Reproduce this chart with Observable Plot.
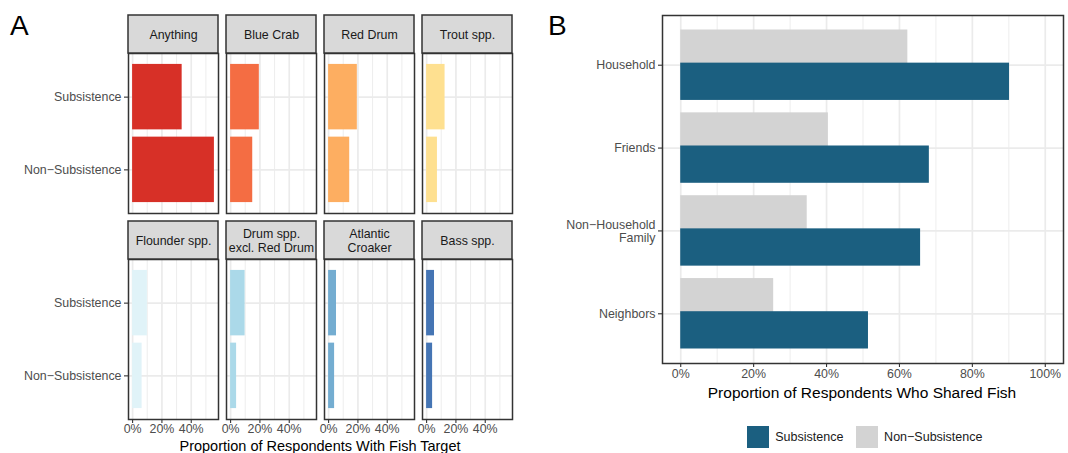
<!DOCTYPE html>
<html><head><meta charset="utf-8">
<script src="https://cdn.jsdelivr.net/npm/d3@7"></script>
<script src="https://cdn.jsdelivr.net/npm/@observablehq/plot@0.6"></script>
<style>
body{margin:0;background:#fff;width:1068px;height:453px;overflow:hidden;position:relative;font-family:"Liberation Sans",Arial,sans-serif;}
.abs{position:absolute;}
.tag{font-size:28px;line-height:28px;color:#000;}
.ttl{font-size:15.5px;line-height:15.5px;color:#000;white-space:nowrap;transform:translateX(-50%);}
.ttlA{font-size:14.5px;line-height:14px;}
</style></head><body>
<div id="A" class="abs" style="left:0;top:0"></div>
<div id="B" class="abs" style="left:540px;top:0"></div>
<div class="abs tag" style="left:10px;top:12px">A</div>
<div class="abs tag" style="left:548px;top:12px">B</div>
<div class="abs ttl ttlA" style="left:320px;top:438.5px">Proportion of Respondents With Fish Target</div>
<div class="abs ttl" style="left:862px;top:385px">Proportion of Respondents Who Shared Fish</div>
<div id="legend" class="abs" style="left:747px;top:420px"></div>
<script>
// ---- data ----
const targets = ["Anything","Blue Crab","Red Drum","Trout spp.","Flounder spp.","Drum spp.\nexcl. Red Drum","Atlantic\nCroaker","Bass spp."];
const targetColors = ["#d73027","#f46d43","#fdae61","#fee090","#e0f3f8","#abd9e9","#74add1","#4575b4"];
const subsistencePct = [33.8,19.6,19.6,12.6,10.1,9.9,5.4,5.4];
const nonSubsistencePct = [55.8,15.1,14.4,7.4,6.5,4.1,4.1,4.1];
const groups = ["Subsistence","Non\u2212Subsistence"];
const groupColors = ["#1b5f80","#d3d3d3"];
const recipients = ["Household","Friends","Non\u2212Household\nFamily","Neighbors"];
const sharedSubsistence = [90.2,68.2,65.8,51.5];
const sharedNonSubsistence = [62.3,40.5,34.7,25.5];
const ticksA = [0,20,40];
const minorTicksA = [10,30,50];
const ticksB = [0,20,40,60,80,100];
const minorTicksB = [10,30,50,70,90];

const font = "'Liberation Sans', Arial, sans-serif";
const fs = 12.4;
const pct = d => d + "%";
const gridMajor = {stroke:"#ebebeb", strokeWidth:1.7};
const gridMinor = {stroke:"#ebebeb", strokeWidth:0.9};

// ---- panel A ----
const facetsA = targets.map((t,i)=>({target:t, col:i%4, row:Math.floor(i/4), color:targetColors[i]}));
const barsA = facetsA.flatMap((f,i)=>[
  {...f, group:groups[0], gi:1, value:subsistencePct[i]},
  {...f, group:groups[1], gi:2, value:nonSubsistencePct[i]}
]);
const maxA = d3.max(barsA, d=>d.value);
const yDomA = [1-0.6, groups.length+0.6];

const plotA = Plot.plot({
  width:540, height:453,
  marginLeft:128, marginRight:28, marginTop:53, marginBottom:34,
  style:{fontFamily:font, fontSize:fs+"px", background:"transparent"},
  fx:{domain:[0,1,2,3], axis:null, paddingInner:8/98, paddingOuter:0, round:false},
  fy:{domain:[0,1], axis:null, paddingInner:46/206, paddingOuter:0, round:false},
  x:{domain:[-0.05*maxA, 1.05*maxA]},
  y:{domain:yDomA, reverse:true},
  color:{type:"identity"},
  marks:[
    Plot.ruleX(minorTicksA, gridMinor),
    Plot.ruleX(ticksA, gridMajor),
    Plot.ruleY([1,2], gridMajor),
    Plot.rect(barsA, {fx:"col", fy:"row", x1:()=>0, x2:"value", y1:d=>d.gi-0.45, y2:d=>d.gi+0.45, fill:"color"}),
    Plot.frame({stroke:"#333333", strokeWidth:1.5}),
    Plot.rect(facetsA, {fx:"col", fy:"row", y1:()=>yDomA[0], y2:()=>yDomA[0], insetTop:-38, fill:"#d9d9d9", stroke:"#333333", strokeWidth:1.5}),
    Plot.text(facetsA, {fx:"col", fy:"row", y:()=>yDomA[0], dy:-19, frameAnchor:"middle", text:"target", fill:"#1a1a1a", fontSize:fs, lineHeight:1.12, lineAnchor:"middle"}),
    Plot.axisY({ticks:[1,2], tickFormat:i=>groups[i-1], tickSize:4, tickPadding:3, stroke:"#333333", strokeWidth:1.1, fill:"#4d4d4d", facetAnchor:"left", anchor:"left", label:null, fontSize:fs}),
    Plot.axisX({ticks:ticksA, tickFormat:pct, tickSize:4, tickPadding:1, stroke:"#333333", strokeWidth:1.1, fill:"#4d4d4d", facetAnchor:"bottom", anchor:"bottom", label:null, fontSize:fs})
  ]
});
document.getElementById("A").append(plotA);

// ---- panel B ----
const barsB = recipients.flatMap((r,i)=>[
  {recipient:r, idx:i+1, group:groups[1], off:-0.2, value:sharedNonSubsistence[i]},
  {recipient:r, idx:i+1, group:groups[0], off:0.2, value:sharedSubsistence[i]}
]);
const plotB = Plot.plot({
  width:528, height:453,
  marginLeft:122, marginRight:5, marginTop:15, marginBottom:90,
  style:{fontFamily:font, fontSize:fs+"px", background:"transparent"},
  x:{domain:[-5,105]},
  y:{domain:[0.4, recipients.length+0.6], reverse:true},
  color:{domain:groups, range:groupColors},
  marks:[
    Plot.ruleX(minorTicksB, gridMinor),
    Plot.ruleX(ticksB, gridMajor),
    Plot.ruleY(recipients.map((r,i)=>i+1), gridMajor),
    Plot.rect(barsB, {x1:()=>0, x2:"value", y1:d=>d.idx+d.off-0.225, y2:d=>d.idx+d.off+0.225, fill:"group"}),
    Plot.frame({stroke:"#333333", strokeWidth:1.5}),
    Plot.axisY({ticks:recipients.map((r,i)=>i+1), tickFormat:i=>recipients[i-1], tickSize:4, tickPadding:3, stroke:"#333333", strokeWidth:1.1, fill:"#4d4d4d", anchor:"left", label:null, fontSize:fs, lineHeight:1.05}),
    Plot.axisX({ticks:ticksB, tickFormat:pct, tickSize:4, tickPadding:2, stroke:"#333333", strokeWidth:1.1, fill:"#4d4d4d", anchor:"bottom", label:null, fontSize:fs})
  ]
});
document.getElementById("B").append(plotB);

// ---- legend ----
const leg = Plot.legend({color:{domain:groups, range:groupColors}, legend:"swatches", swatchSize:22, style:{fontFamily:font, fontSize:"12.5px", color:"#1a1a1a"}});
document.getElementById("legend").append(leg);
</script>
</body></html>
